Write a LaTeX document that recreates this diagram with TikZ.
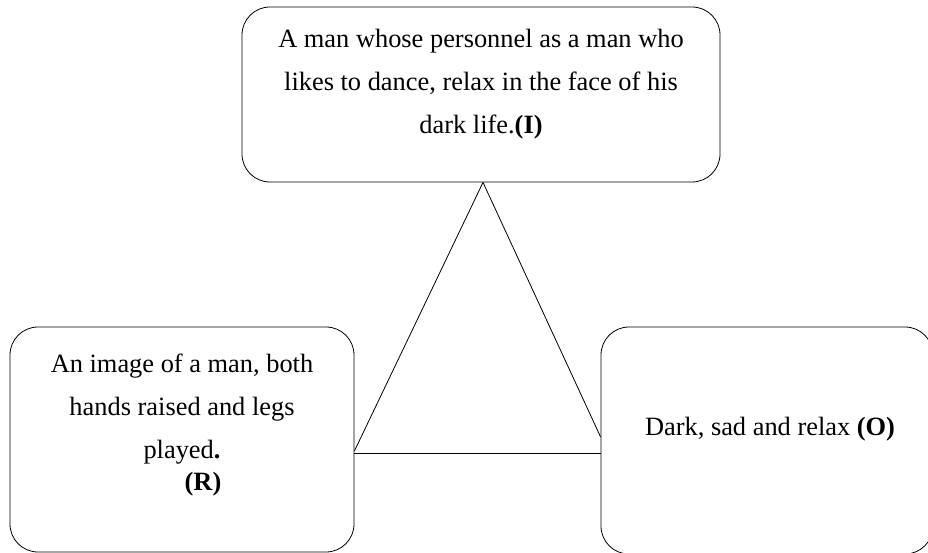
\documentclass[tikz,border=0pt]{standalone}
\usepackage{fontspec}
\setmainfont{Liberation Serif}
\usepackage{tikz}
\usetikzlibrary{calc}
\usetikzlibrary{positioning}
\tikzset{>=latex}
\tikzstyle{box} = [draw = black, line width = 0.8pt, rounded corners = 28pt, inner sep = 0]
\tikzstyle{txt} = [draw = none, inner sep = 0, align = center, font = \fontsize{26.4}{43}\selectfont]

\begin{document}
\begin{tikzpicture}[x = 1pt, y = -1pt]
\useasboundingbox (0, 0) rectangle (928, 553);
\node [box, minimum width = 478, minimum height = 175] (I) at (481, 94.5) {};
\node [box, minimum width = 344, minimum height = 225] (R) at (182, 439.5) {};
\node [box, minimum width = 332, minimum height = 227] (O) at (767, 440.5) {};
\node [txt, anchor = north] (Itext) at (481, 29) {A man whose personnel as a man who\\ likes to dance, relax in the face of his\\ dark life.\textbf{(I)}};
\node [txt, anchor = north] (Rtext) at (182, 354) {An image of a man, both\\ hands raised and legs\\ played\textbf{.}\\[-11pt] \hspace*{42pt}\textbf{(R)}};
\node [txt, anchor = base] (Otext) at (770, 435) {Dark, sad and relax \textbf{(O)}};
\draw [draw = black, line width = 0.8pt] ([xshift = 2pt]I.south) to ([yshift = -11.5pt]R.east);
\draw [draw = black, line width = 0.8pt] ([xshift = 2pt]I.south) to ([yshift = 3.5pt]O.west);
\draw [draw = black, line width = 0.8pt] ([yshift = -13.5pt]R.east) to ([yshift = -12.5pt]O.west);
\end{tikzpicture}
\end{document}
